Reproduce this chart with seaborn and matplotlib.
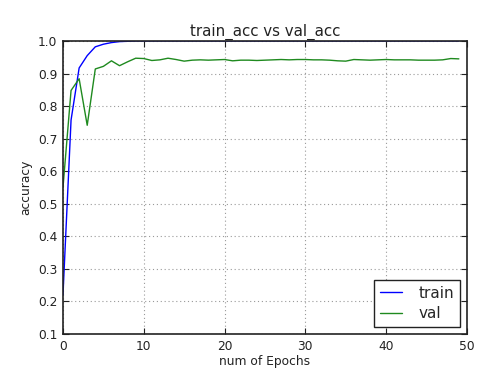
import numpy as np
import pandas as pd
import seaborn as sns
import matplotlib
matplotlib.use("Agg")
import matplotlib.pyplot as plt

# Per-epoch accuracy history
epochs = list(range(50))
train_acc = [0.22, 0.757, 0.917, 0.955, 0.982, 0.990, 0.995, 0.998, 0.999, 1.0] + [1.0] * 40
val_acc = [
    0.55, 0.848, 0.884, 0.741, 0.914, 0.922, 0.939, 0.924, 0.936, 0.947,
    0.946, 0.940, 0.942, 0.947, 0.943, 0.938, 0.941, 0.942, 0.941, 0.942,
    0.943, 0.939, 0.941, 0.941, 0.940, 0.941, 0.942, 0.943, 0.942, 0.943,
    0.943, 0.942, 0.942, 0.941, 0.939, 0.938, 0.943, 0.942, 0.941, 0.942,
    0.943, 0.942, 0.942, 0.942, 0.941, 0.941, 0.941, 0.942, 0.946, 0.945,
]
series_names = ["train", "val"]
x_ticks = [0, 10, 20, 30, 40, 50]
y_ticks = [0.1, 0.2, 0.3, 0.4, 0.5, 0.6, 0.7, 0.8, 0.9, 1.0]

df = pd.DataFrame({
    "epoch": epochs * 2,
    "accuracy": train_acc + val_acc,
    "series": [series_names[0]] * len(epochs) + [series_names[1]] * len(epochs),
})

sns.set_style("white")
plt.rcParams["font.family"] = ["DejaVu Sans"]

fig = plt.figure(figsize=(5.01, 3.69), dpi=100)
ax = fig.add_axes([0.1257, 0.0949, 0.8063, 0.7941])

sns.lineplot(data=df, x="epoch", y="accuracy", hue="series",
             palette={"train": "#0000ff", "val": "#1f8a1f"},
             linewidth=1.0, ax=ax)

ax.set_xlim(0, 50)
ax.set_ylim(0.1, 1.0)
ax.set_xticks(x_ticks)
ax.set_yticks(y_ticks)
ax.set_yticklabels([f"{v:.1f}" for v in y_ticks])
ax.tick_params(direction="in", length=4, width=0.8, labelsize=8.8, colors="#222222",
               top=True, right=True, bottom=True, left=True, pad=4)
ax.grid(True, linestyle=(0, (1, 2.5)), color="#999999", linewidth=0.8)

for s in ax.spines.values():
    s.set_visible(True)
    s.set_color("#222222")
    s.set_linewidth(1.2)

ax.set_xlabel("num of Epochs", fontsize=8.8, color="#222222", labelpad=2)
ax.set_ylabel("accuracy", fontsize=8.8, color="#222222", labelpad=4)
ax.set_title("train_acc vs val_acc", fontsize=10.8, color="#222222", pad=4)

leg = ax.legend(loc="lower right", fontsize=11, frameon=True, fancybox=False,
                edgecolor="#222222", handlelength=1.4, borderpad=0.4,
                handletextpad=1.1, borderaxespad=0.45, labelspacing=0.35)
leg.get_frame().set_linewidth(1.0)
leg.get_frame().set_alpha(1.0)
for line in leg.get_lines():
    line.set_linewidth(1.0)

fig.savefig("out.png", dpi=100)
